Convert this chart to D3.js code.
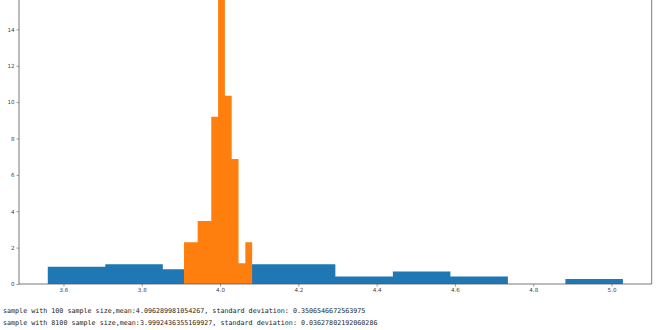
<!DOCTYPE html>
<html>
<head>
<meta charset="utf-8">
<script src="https://cdn.jsdelivr.net/npm/d3@7"></script>
<style>
html,body{margin:0;padding:0;background:#fff;overflow:hidden;}
svg{display:block;}
</style>
</head>
<body>
<svg id="chart" width="660" height="330"></svg>
<script>
// Sample of 100 (blue): 10 bins, density heights
const blueEdges = [3.560, 3.7069, 3.8538, 4.0007, 4.1476, 4.2945, 4.4414, 4.5883, 4.7352, 4.8821, 5.029];
const blueHeights = [0.953, 1.089, 0.817, 1.089, 1.089, 0.408, 0.681, 0.408, 0.0, 0.272];
// Sample of 8100 (orange): 10 bins, density heights
const orangeEdges = [3.908, 3.9254, 3.9428, 3.9602, 3.9776, 3.995, 4.0124, 4.0298, 4.0472, 4.0646, 4.082];
const orangeHeights = [2.29, 2.29, 3.46, 3.46, 9.2, 16.1, 10.35, 6.87, 1.14, 2.29];
const xTicks = [3.6, 3.8, 4.0, 4.2, 4.4, 4.6, 4.8, 5.0];
const yTicks = [0, 2, 4, 6, 8, 10, 12, 14];
const textLines = [
  "sample with 100 sample size,mean:4.096289981054267, standard deviation: 0.3506546672563975",
  "sample with 8100 sample size,mean:3.9992436355169927, standard deviation: 0.03627802192060286"
];

const svg = d3.select("#chart");
const left = 19, right = 651.7, bottom = 284;
const pxPerUnit = 18.19;
const yMax = 16.1 * 1.05;

const x = d3.scaleLinear().domain([3.4865, 5.1025]).range([left, right]);
const y = d3.scaleLinear().domain([0, yMax]).range([bottom, bottom - yMax * pxPerUnit]);

// draw each histogram as one stepped outline so adjacent bins have no seams
function bars(edges, heights, color) {
  const pts = [];
  heights.forEach((h, i) => {
    pts.push([x(edges[i]), y(h)]);
    pts.push([x(edges[i + 1]), y(h)]);
  });
  const d = `M${x(edges[0])},${y(0)}` + pts.map(p => `L${p[0]},${p[1]}`).join("") + `L${x(edges[edges.length - 1])},${y(0)}Z`;
  svg.append("path").attr("d", d).attr("fill", color).attr("stroke", "none");
}
bars(blueEdges, blueHeights, "#1f77b4");
bars(orangeEdges, orangeHeights, "#ff7f0e");

const axisColor = "#555";
// spines
svg.append("line").attr("x1", left).attr("x2", left).attr("y1", y(yMax)).attr("y2", bottom)
  .attr("stroke", axisColor).attr("stroke-width", 0.8);
svg.append("line").attr("x1", right).attr("x2", right).attr("y1", y(yMax)).attr("y2", bottom)
  .attr("stroke", axisColor).attr("stroke-width", 0.8);

const xAxis = d3.axisBottom(x).tickValues(xTicks).tickFormat(d3.format(".1f")).tickSize(2.5).tickPadding(2);
const gx = svg.append("g").attr("transform", `translate(0,${bottom})`).call(xAxis);
gx.select(".domain").attr("d", `M${left},0H${right}`).attr("stroke", axisColor).attr("stroke-width", 0.8);
gx.selectAll(".tick line").attr("stroke", axisColor).attr("stroke-width", 0.6);
gx.selectAll("text").attr("fill", "#444").style("font-family", "DejaVu Sans, sans-serif").style("font-size", "5.6px");

const yAxis = d3.axisLeft(y).tickValues(yTicks).tickFormat(d3.format("d")).tickSize(2.5).tickPadding(2);
const gy = svg.append("g").attr("transform", `translate(${left},0)`).call(yAxis);
gy.select(".domain").remove();
gy.selectAll(".tick line").attr("stroke", axisColor).attr("stroke-width", 0.6);
gy.selectAll("text").attr("fill", "#444").style("font-family", "DejaVu Sans, sans-serif").style("font-size", "5.6px");

svg.append("g").selectAll("text").data(textLines).join("text")
  .attr("x", 3)
  .attr("y", (d, i) => 312.5 + i * 12.5)
  .attr("fill", "#222")
  .style("font-family", "DejaVu Sans Mono, monospace")
  .style("font-size", "6.7px")
  .text(d => d);
</script>
</body>
</html>
